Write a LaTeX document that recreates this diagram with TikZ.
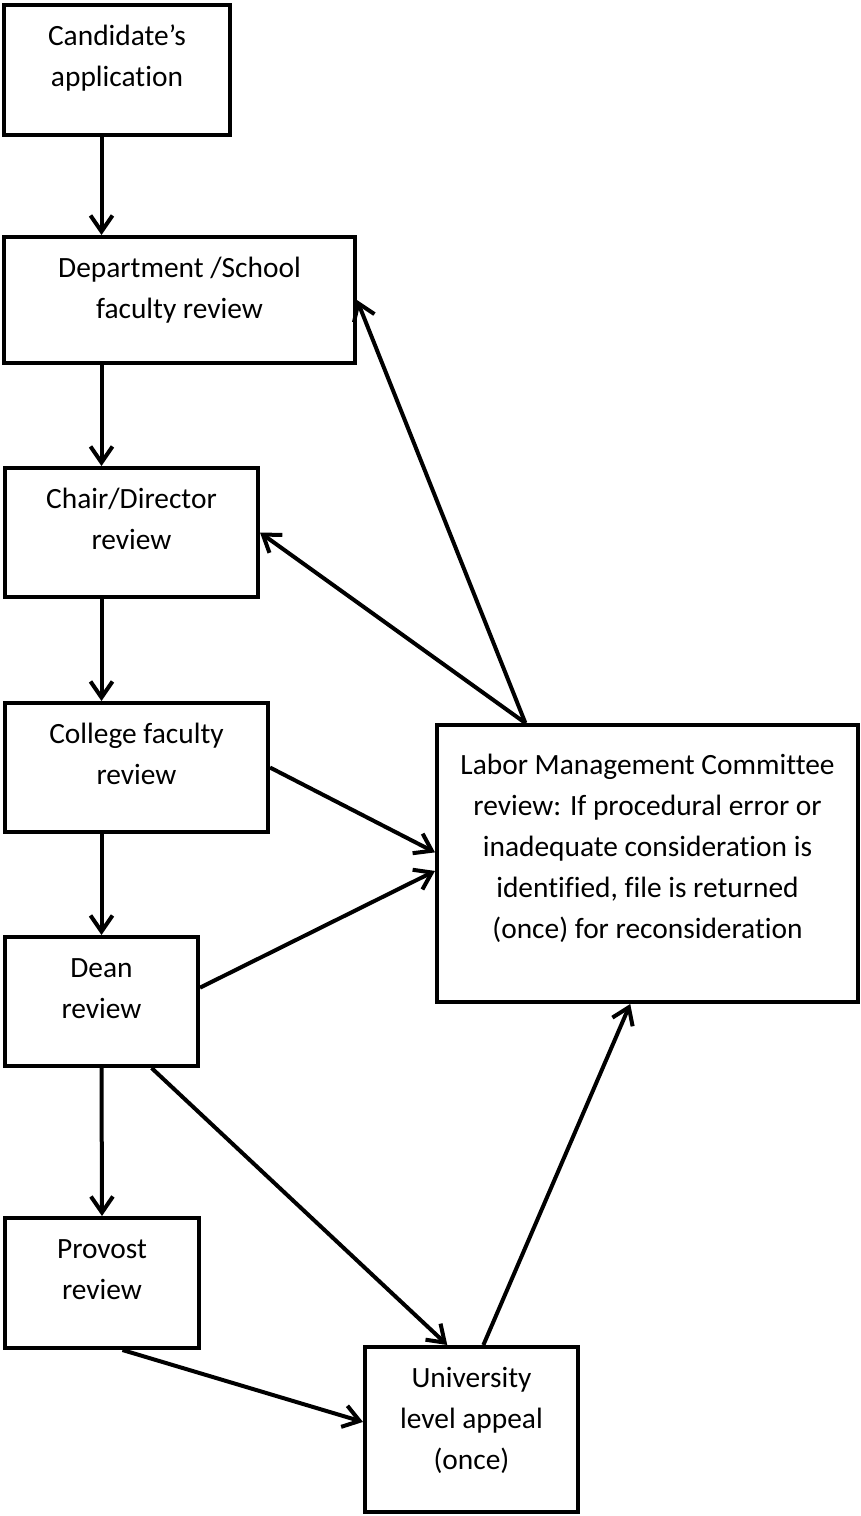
\documentclass[tikz,border=0pt]{standalone}
\usepackage{fontspec}
\setmainfont{Carlito}[Ligatures={TeX,NoCommon}]
\usepackage{tikz}
\usetikzlibrary{arrows.meta}
\tikzstyle{process} = [rectangle, draw=black, line width=2pt, inner sep=0pt, text centered, text height=20pt, font=\fontsize{14.7pt}{20.5pt}\selectfont]
\tikzstyle{arrow} = [line width=2pt, -{Straight Barb[length=8pt,width=11pt]}]
\newcommand{\boxlines}[1]{\begin{tabular}[t]{@{}c@{}}#1\end{tabular}}

\begin{document}
\begin{tikzpicture}[x=0.5pt, y=-0.5pt]
		\useasboundingbox (0,0) rectangle (861,1516);
		% boxes of the review chain
		\node (cand) [process, minimum width=113pt, text depth=45pt] at (117,70) {\boxlines{Candidate’s\\application}};
		\node (dept) [process, minimum width=175.5pt, text depth=43pt] at (179.5,300) {\boxlines{Department /School\\faculty review}};
		\node (chair) [process, minimum width=126.5pt, text depth=44.5pt] at (131.5,532.5) {\boxlines{Chair/Director\\review}};
		\node (college) [process, minimum width=131.5pt, text depth=44.5pt] at (136.5,767.5) {\boxlines{College faculty\\review}};
		\node (dean) [process, minimum width=96.5pt, text depth=44.5pt] at (101.5,1001.5) {\boxlines{Dean\\review}};
		\node (provost) [process, minimum width=97pt, text depth=45pt] at (102,1283) {\boxlines{Provost\\review}};
		\node (univ) [process, minimum width=106.5pt, text depth=62.5pt] at (471.5,1429.5) {\boxlines{University\\level appeal\\(once)}};
		\node (lmc) [process, minimum width=210.5pt, text height=24.5pt, text depth=114pt] at (647.5,863.5) {\boxlines{Labor Management Committee\\review: If procedural error or\\inadequate consideration is\\identified, file is returned\\(once) for reconsideration}};
		
		% main line
		\draw [arrow] (cand.south -| dean) -- (dept.north -| dean);
		\draw [arrow] (dept.south -| dean) -- (chair.north -| dean);
		\draw [arrow] (chair.south -| dean) -- (college.north -| dean);
		\draw [arrow] (college.south -| dean) -- (dean.north);
		\draw [arrow] (dean.south) -- (provost.north);
		
		% committee and appeal
		\draw [arrow] (lmc.131) -- (dept.east);
		\draw [arrow] (lmc.131) -- (chair.east);
		\draw [arrow] (college.east) -- (lmc.177);
		\draw [arrow] (dean.8) -- (lmc.182);
		\draw [arrow] (dean.-53) -- (univ.106);
		\draw [arrow] (provost.-73) -- (univ.176);
		\draw [arrow] (univ.82) -- (lmc.-97);
		
	\end{tikzpicture}
\end{document}
